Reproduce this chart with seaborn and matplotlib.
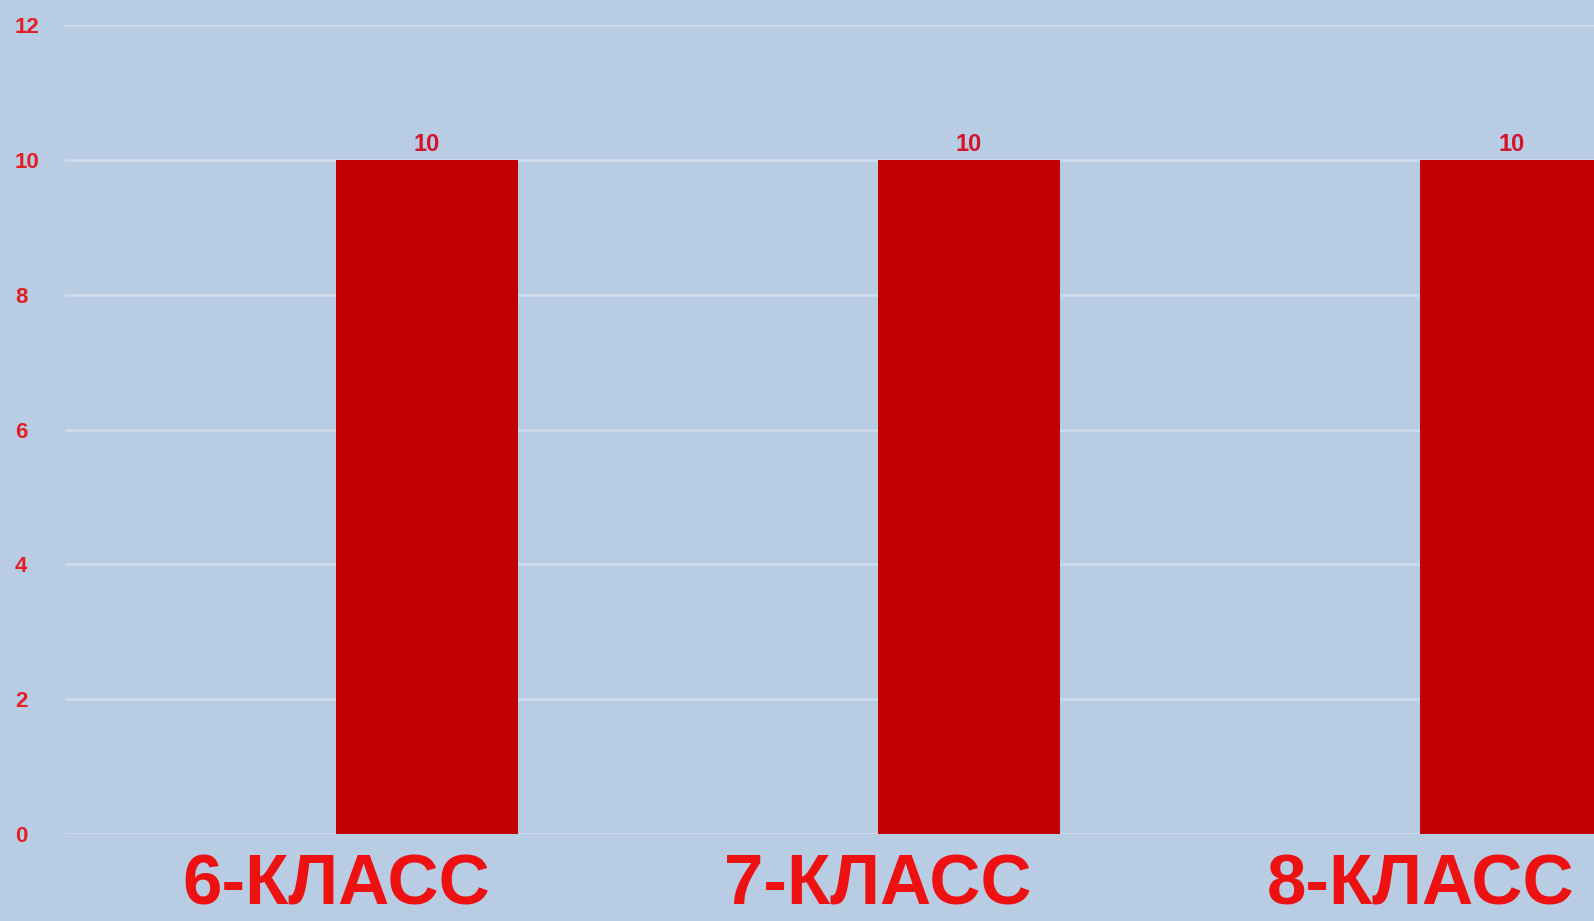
import pandas as pd
import matplotlib
matplotlib.use('Agg')
import matplotlib.pyplot as plt
import seaborn as sns

# data
classes = ['6-КЛАСС', '7-КЛАСС', '8-КЛАСС']
series_names = ['Ряд 1', 'Ряд 2']
ryad1 = [0, 0, 0]      # empty first series (keeps the slot on the left)
ryad2 = [10, 10, 10]
y_ticks = [0, 2, 4, 6, 8, 10, 12]

df = pd.DataFrame({
    'class': classes * 2,
    'series': [series_names[0]] * 3 + [series_names[1]] * 3,
    'value': ryad1 + ryad2,
})

bg = '#b8cce4'
sns.set_theme(style='white')
plt.rcParams['font.family'] = ['Liberation Sans', 'DejaVu Sans']

fig = plt.figure(figsize=(15.94, 9.21), dpi=100, facecolor=bg)
ax = fig.add_axes([65 / 1594, 87 / 921, 1 - 65 / 1594, (834 - 25) / 921])
ax.set_facecolor(bg)

sns.barplot(data=df, x='class', y='value', hue='series', hue_order=series_names,
            palette=[bg, '#c00000'], width=0.67, saturation=1, ax=ax,
            legend=False, errorbar=None, linewidth=0, edgecolor='none')

ax.bar_label(ax.containers[1], fmt='%g', padding=3, fontsize=17,
             fontweight='bold', color='#d4142c')

ax.set_xlim(-0.5, 2.32)
ax.set_ylim(0, 12)
ax.set_yticks(y_ticks)
ax.yaxis.grid(True, color='#d0dcec', linewidth=1.8)
ax.set_axisbelow(True)
for s in ax.spines.values():
    s.set_visible(False)
ax.set_xlabel('')
ax.set_ylabel('')
ax.tick_params(axis='y', length=0, pad=36, labelsize=16, labelcolor='#e31e24')
ax.tick_params(axis='x', length=0, pad=14, labelsize=51, labelcolor='#ee1111')
for lbl in ax.get_yticklabels():
    lbl.set_fontweight('bold')
    lbl.set_horizontalalignment('left')
for lbl in ax.get_xticklabels():
    lbl.set_fontweight('bold')

fig.savefig('out.png', dpi=100, facecolor=bg)
